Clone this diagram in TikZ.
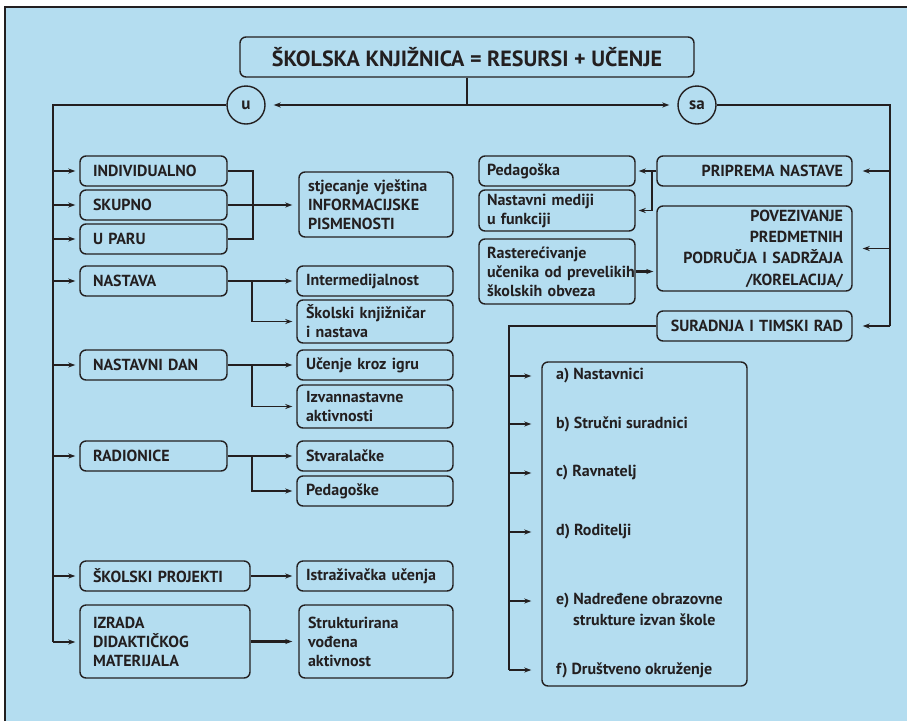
\documentclass[tikz,border=0pt]{standalone}
\usepackage{fontspec}
\setmainfont{PT Sans}
\usetikzlibrary{arrows.meta}
\definecolor{sky}{RGB}{180,221,240}
\definecolor{ink}{RGB}{35,31,32}
\tikzset{
  box/.style={draw=ink, text=ink, line width=1.4pt, rounded corners=6pt, inner ysep=0pt, font=\bfseries\fontsize{16}{19}\selectfont},
  boxl/.style={box, inner xsep=13pt, text width=121pt, align=left},
  boxm/.style={box, inner xsep=9pt, text width=138pt, align=left},
  boxp/.style={box, inner xsep=9pt, text width=177pt, align=right},
  frame/.style={draw=ink, line width=1.4pt, rounded corners=6pt, inner sep=0pt},
  entry/.style={anchor=west, inner sep=0pt, text=ink, font=\bfseries\fontsize{16}{19}\selectfont},
  ring/.style={circle, draw=ink, text=ink, line width=1.4pt, minimum size=38pt, inner sep=0pt, font=\bfseries\fontsize{17}{17}\selectfont},
  wire/.style={draw=ink, line width=1.4pt},
  arr/.style={wire, -{Stealth[length=7pt,width=5pt]}},
  thk/.style={line width=2.1pt}
}

\begin{document}
\begin{tikzpicture}[x=1pt,y=-1pt]
        \useasboundingbox (0,0) rectangle (907,721);
        \fill[white] (0,0) rectangle (907,721);
        \fill[sky] (5,7) rectangle (907,721);
        \draw[ink, line width=1.5pt] (5,721) -- (5,7) -- (907,7);

        \node[box, font=\bfseries\fontsize{22}{22}\selectfont, minimum width=454pt, minimum height=40pt] (t) at (467,57) {ŠKOLSKA KNJIŽNICA = RESURSI + UČENJE};
        \node[ring] (u) at (246,105) {u};
        \node[ring] (sa) at (697,105) {sa};

        \node[boxl, minimum height=30pt] (l1) at (153.5,171) {INDIVIDUALNO};
        \node[boxl, minimum height=30pt] (l2) at (153.5,205) {SKUPNO};
        \node[boxl, minimum height=30pt] (l3) at (153.5,239) {U PARU};
        \node[boxl, minimum height=30pt] (l4) at (153.5,281) {NASTAVA};
        \node[boxl, minimum height=30pt] (l5) at (153.5,365) {NASTAVNI DAN};
        \node[boxl, minimum height=30pt] (l6) at (153.5,456) {RADIONICE};
        \node[boxl, text width=144pt, minimum height=30pt] (l7) at (165,576) {ŠKOLSKI PROJEKTI};
        \node[boxl, text width=144pt, minimum height=73pt] (l8) at (165,641.5) {IZRADA\\DIDAKTIČKOG\\MATERIJALA};

        \node[boxm, text width=136pt, minimum height=65pt] (m1) at (376,204.5) {stjecanje vještina\\INFORMACIJSKE\\PISMENOSTI};
        \node[boxm, minimum height=30pt] (m2) at (375,281) {Intermedijalnost};
        \node[boxm, minimum height=43pt] (m3) at (375,321.5) {Školski knjižničar\\i nastava};
        \node[boxm, minimum height=30pt] (m4) at (375,365) {Učenje kroz igru};
        \node[boxm, minimum height=43pt] (m5) at (375,406.5) {Izvannastavne\\aktivnosti};
        \node[boxm, minimum height=30pt] (m6) at (375,456) {Stvaralačke};
        \node[boxm, minimum height=30pt] (m7) at (375,491) {Pedagoške};
        \node[boxm, minimum height=30pt] (m8) at (375,576) {Istraživačka učenja};
        \node[boxm, text width=136pt, minimum height=73pt] (m9) at (376,641.5) {Strukturirana\\vođena\\aktivnost};

        \node[boxm, inner xsep=8pt, text width=140pt, minimum height=30pt] (r1) at (557,171) {Pedagoška};
        \node[boxm, inner xsep=8pt, text width=140pt, minimum height=41pt] (r2) at (557,210.5) {Nastavni mediji\\u funkciji};
        \node[boxm, inner xsep=8pt, text width=140pt, minimum height=65pt] (r3) at (557,271.5) {Rasterećivanje\\\mbox{učenika od prevelikih}\\školskih obveza};
        \node[boxp, minimum height=30pt] (r4) at (754.5,171) {PRIPREMA NASTAVE};
        \node[boxp, minimum height=85pt, font=\bfseries\fontsize{16}{21.3}\selectfont] (r5) at (754.5,248.5) {POVEZIVANJE\\PREDMETNIH\\PODRUČJA I SADRŽAJA\\/KORELACIJA/};
        \node[boxp, minimum height=30pt] (r6) at (754.5,326) {SURADNJA I TIMSKI RAD};

        \node[frame, minimum width=205pt, minimum height=324pt] (bx) at (644.5,524) {};
        \node[entry] (s1) at (556,376) {a) Nastavnici};
        \node[entry] (s2) at (556,424) {b) Stručni suradnici};
        \node[entry] (s3) at (556,473) {c) Ravnatelj};
        \node[entry] (s4) at (556,532) {d) Roditelji};
        \node[entry] (s5) at (556,601) {e) Nadređene obrazovne};
        \node[entry] (s5b) at (573,620) {strukture izvan škole};
        \node[entry] (s6) at (556,670) {f) Društveno okruženje};

        \coordinate (tc) at (467,105);
        \coordinate (lt) at (53,105);
        \coordinate (lb) at (53,642);
        \coordinate (rt) at (890,105);
        \coordinate (st) at (509,326);
        \coordinate (bk) at (253,171);
        \coordinate (j1) at (252,281);
        \coordinate (j2) at (252,365);
        \coordinate (j3) at (252,456);
        \coordinate (j4) at (652,171);

        \draw[wire] (t.south) -- (tc);
        \draw[arr, shorten >=8pt] (tc) -- (u);
        \draw[arr, shorten >=8pt] (tc) -- (sa);

        \draw[wire] (u) -- (lt) -- (lb);
        \foreach \n in {l1,l2,l3,l4,l5,l6,l7}
            \draw[arr, shorten >=4pt] (lt |- \n) -- (\n);
        \draw[arr, shorten >=4pt] (lb) -- (lb -| l8.west);

        \draw[wire] (l1.east) -- (bk) |- (l3.east);
        \draw[arr, thk, shorten >=6pt] (l2.east) -- (l2.east -| m1.west);
        \draw[arr, thk, shorten >=4pt] (l4) -- (m2);
        \draw[arr, shorten >=4pt] (j1) |- (m3);
        \draw[arr, thk, shorten >=4pt] (l5) -- (m4);
        \draw[arr, shorten >=4pt] (j2) |- (m5);
        \draw[arr, thk, shorten >=4pt] (l6) -- (m6);
        \draw[arr, shorten >=4pt] (j3) |- (m7);
        \draw[arr, thk, shorten >=4pt] (l7) -- (m8);
        \draw[arr, thk, shorten >=6pt] (l8) -- (m9);

        \draw[wire] (sa) -- (rt) -- (rt |- r6);
        \draw[arr, shorten >=10pt] (rt |- r4) -- (r4);
        \draw[arr, shorten >=10pt] (rt |- r5) -- (r5);
        \draw[arr, shorten >=10pt] (rt |- r6) -- (r6);

        \draw[arr, thk, shorten >=3pt] (r4) -- (r1);
        \draw[arr, shorten >=3pt] (j4) |- (r2);
        \draw[arr, thk, shorten >=3pt] (r3.east) -- (r3.east -| r5.west);

        \draw[wire] (r6) -- (st) -- (st |- s6);
        \foreach \n in {s1,s2,s3,s4,s5,s6}
            \draw[arr, shorten >=10pt] (st |- \n) -- (bx.west |- \n);
    \end{tikzpicture}
\end{document}
